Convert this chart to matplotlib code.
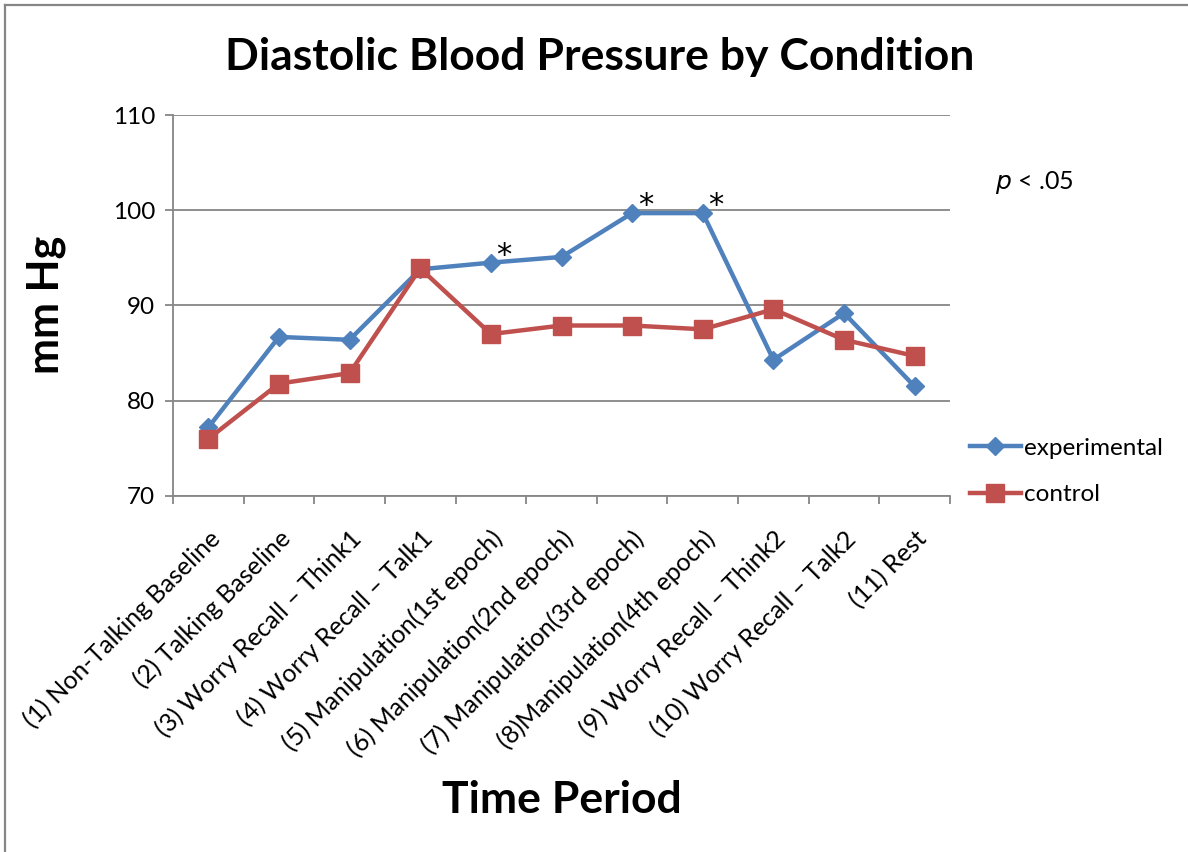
import matplotlib
matplotlib.use("Agg")
import matplotlib.pyplot as plt
from matplotlib.lines import Line2D
import numpy as np

categories = [
    "(1) Non-Talking Baseline",
    "(2) Talking Baseline",
    "(3) Worry Recall \u2013 Think1",
    "(4) Worry Recall \u2013 Talk1",
    "(5) Manipulation(1st epoch)",
    "(6) Manipulation(2nd epoch)",
    "(7) Manipulation(3rd epoch)",
    "(8)Manipulation(4th epoch)",
    "(9) Worry Recall \u2013 Think2",
    "(10) Worry Recall \u2013 Talk2",
    "(11) Rest",
]
experimental = [77.2, 86.7, 86.4, 93.8, 94.5, 95.1, 99.7, 99.7, 84.3, 89.2, 81.5]
control = [76.0, 81.8, 82.9, 93.9, 87.0, 87.9, 87.9, 87.5, 89.6, 86.4, 84.7]
significant = [4, 6, 7]
y_ticks = [70, 80, 90, 100, 110]

FONT = ["Lato", "DejaVu Sans"]
plt.rcParams["font.family"] = FONT

W, H = 1188, 852
fig = plt.figure(figsize=(W / 100, H / 100), dpi=100)
ax = fig.add_axes([173 / W, 1 - 496 / H, (950 - 173) / W, (496 - 115) / H])

blue = "#4F81BD"
red = "#C0504D"
grid_c = "#868686"

x = np.arange(len(categories))
ax.plot(x, experimental, color=blue, lw=3.2, marker="D", ms=9, mec=blue,
        mfc=blue, label="experimental", zorder=3, solid_joinstyle="round")
ax.plot(x, control, color=red, lw=3.2, marker="s", ms=13.5, mec=red,
        mfc=red, label="control", zorder=3, solid_joinstyle="round")

for i in significant:
    ax.annotate("*", (x[i], experimental[i]), xytext=(4, -5),
                textcoords="offset points", fontsize=22, ha="left",
                va="bottom", color="black", family=["DejaVu Sans"])

ax.set_xlim(-0.5, len(categories) - 0.5)
ax.set_ylim(70, 110)
ax.set_yticks(y_ticks)
ax.set_yticklabels([str(v) for v in y_ticks], fontsize=17.5)
ax.yaxis.grid(True, color=grid_c, lw=1.3)
ax.set_axisbelow(True)

ax.set_xticks(x)
ax.set_xticklabels(categories, rotation=45, ha="right", va="top",
                   rotation_mode="anchor", fontsize=18)
ax.tick_params(axis="x", which="major", length=0, pad=22)
ax.set_xticks(np.arange(-0.5, len(categories), 1), minor=True)
ax.tick_params(axis="x", which="minor", length=6, color=grid_c, width=1.3,
               direction="out")
ax.tick_params(axis="y", length=6, color=grid_c, width=1.3, pad=7)

for s in ["top", "right"]:
    ax.spines[s].set_visible(False)
for s in ["left", "bottom"]:
    ax.spines[s].set_color(grid_c)
    ax.spines[s].set_linewidth(1.3)

fig.text(600 / W, 1 - 57 / H, "Diastolic Blood Pressure by Condition",
         fontsize=32, fontweight="bold", ha="center", va="center")
fig.text(46 / W, 1 - 305 / H, "mm Hg", fontsize=31, fontweight="bold",
         rotation=90, ha="center", va="center")
fig.text(562 / W, 1 - 800 / H, "Time Period", fontsize=32, fontweight="bold",
         ha="center", va="center")
fig.text(995 / W, 1 - 182 / H, r"$\it{p}$ < .05", fontsize=18, ha="left",
         va="center")

fig.legend(loc="upper left", bbox_to_anchor=(960 / W, 1 - 428 / H),
           frameon=False, fontsize=17.5, handlelength=2.1, handletextpad=0.12,
           labelspacing=1.05, borderaxespad=0)

fig.add_artist(Line2D([5 / W, 5 / W], [0, 1 - 5 / H], transform=fig.transFigure,
                      color=grid_c, lw=1.6))
fig.add_artist(Line2D([5 / W, 1], [1 - 5 / H, 1 - 5 / H], transform=fig.transFigure,
                      color=grid_c, lw=1.6))

fig.savefig("out.png", dpi=100, facecolor="white")
